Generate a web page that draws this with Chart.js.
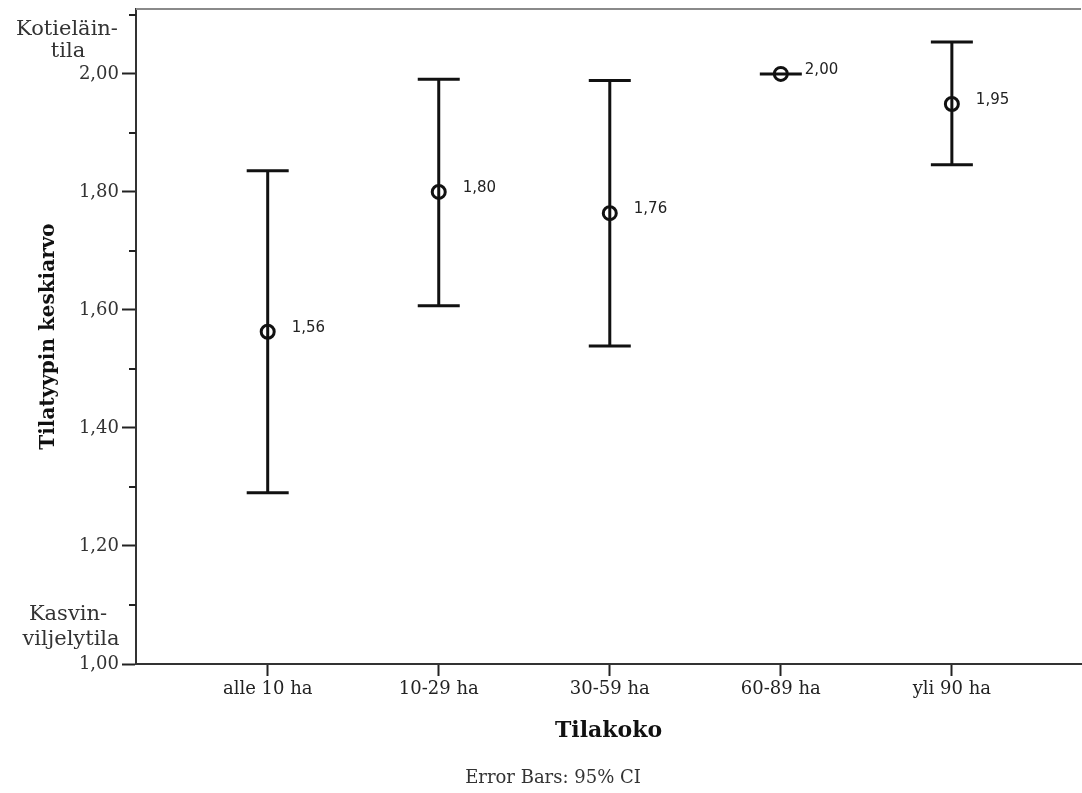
<!DOCTYPE html>
<html><head><meta charset="utf-8">
<script src="https://cdn.jsdelivr.net/npm/chart.js@4.4.1/dist/chart.umd.min.js"></script>
<style>html,body{margin:0;padding:0;background:#fff;} canvas{display:block;}</style>
</head><body>
<canvas id="c" width="1082" height="793"></canvas>
<script>
// ---- data ----
const categories = ['alle 10 ha', '10-29 ha', '30-59 ha', '60-89 ha', 'yli 90 ha'];
const means      = [1.563, 1.800, 1.764, 2.000, 1.949];
const ciLower    = [1.290, 1.607, 1.539, 2.000, 1.846];
const ciUpper    = [1.836, 1.991, 1.989, 2.000, 2.054];
const meanLabels = ['1,56', '1,80', '1,76', '2,00', '1,95'];
const yTickValues = [1.0, 1.1, 1.2, 1.3, 1.4, 1.5, 1.6, 1.7, 1.8, 1.9, 2.0, 2.1];
const yMajorTicks = [1.0, 1.2, 1.4, 1.6, 1.8, 2.0];
const topValueLabel = ['Kotieläin-', 'tila'];
const bottomValueLabel = ['Kasvin-', 'viljelytila'];
const footerText = 'Error Bars: 95% CI';

const SERIF = '"DejaVu Serif", serif';
const isMajor = v => yMajorTicks.some(m => Math.abs(m - v) < 1e-6);
const fmt = v => v.toFixed(2).replace('.', ',');

const decor = {
  id: 'decor',
  beforeDatasetsDraw(chart) {
    const {ctx, chartArea, scales: {x, y}} = chart;
    ctx.save();
    // top frame line
    ctx.strokeStyle = '#8a8a8a'; ctx.lineWidth = 2;
    ctx.beginPath(); ctx.moveTo(chartArea.left, chartArea.top); ctx.lineTo(chartArea.right, chartArea.top); ctx.stroke();
    // minor y ticks
    ctx.strokeStyle = '#222'; ctx.lineWidth = 2;
    yTickValues.filter(v => !isMajor(v)).forEach(v => {
      const py = Math.round(y.getPixelForValue(v));
      ctx.beginPath(); ctx.moveTo(chartArea.left - 7, py); ctx.lineTo(chartArea.left, py); ctx.stroke();
    });
    // error bars
    ctx.strokeStyle = '#111'; ctx.lineWidth = 3;
    categories.forEach((c, i) => {
      const px = x.getPixelForValue(i);
      const pl = y.getPixelForValue(ciLower[i]);
      const pu = y.getPixelForValue(ciUpper[i]);
      ctx.beginPath();
      ctx.moveTo(px, pl); ctx.lineTo(px, pu);
      ctx.moveTo(px - 21, pl); ctx.lineTo(px + 21, pl);
      ctx.moveTo(px - 21, pu); ctx.lineTo(px + 21, pu);
      ctx.stroke();
    });
    ctx.restore();
  },
  afterDatasetsDraw(chart) {
    const {ctx, chartArea, scales: {x, y}} = chart;
    ctx.save();
    // mean value labels
    ctx.fillStyle = '#222'; ctx.font = '15px "DejaVu Sans", sans-serif';
    ctx.textAlign = 'left'; ctx.textBaseline = 'middle';
    categories.forEach((c, i) => {
      ctx.fillText(meanLabels[i], x.getPixelForValue(i) + 24, y.getPixelForValue(means[i]) - 4);
    });
    // value labels for the scale ends
    ctx.fillStyle = '#333'; ctx.font = '21px ' + SERIF; ctx.textAlign = 'center'; ctx.textBaseline = 'alphabetic';
    const yTop = y.getPixelForValue(2.0), yBot = y.getPixelForValue(1.0);
    ctx.fillText(topValueLabel[0], 67, yTop - 39);
    ctx.fillText(topValueLabel[1], 68, yTop - 17);
    ctx.fillText(bottomValueLabel[0], 68, yBot - 44);
    ctx.fillText(bottomValueLabel[1], 71, yBot - 19);
    // footer
    ctx.font = '18px ' + SERIF; ctx.textBaseline = 'middle';
    ctx.fillText(footerText, chart.width / 2 + 12, 778);
    ctx.restore();
  }
};

new Chart(document.getElementById('c'), {
  type: 'scatter',
  data: {
    datasets: [{
      data: means.map((m, i) => ({x: i, y: m})),
      pointRadius: 6.5,
      pointHoverRadius: 6.5,
      pointBorderWidth: 3,
      pointBorderColor: '#111',
      pointBackgroundColor: 'rgba(0,0,0,0)',
      showLine: false,
      clip: false
    }]
  },
  options: {
    responsive: false,
    animation: false,
    devicePixelRatio: 1,
    layout: {autoPadding: false, padding: {top: 9, right: 1, left: 0, bottom: 0}},
    plugins: {legend: {display: false}, tooltip: {enabled: false}},
    scales: {
      x: {
        type: 'linear', min: -0.77, max: 4.755,
        afterBuildTicks: s => { s.ticks = categories.map((c, i) => ({value: i})); },
        afterFit: s => { s.height = 129; s.paddingLeft = 0; s.paddingRight = 0; },
        ticks: {
          callback: v => categories[Math.round(v)] ?? '',
          font: {family: SERIF, size: 18}, color: '#222', padding: 3, maxRotation: 0, autoSkip: false
        },
        grid: {drawOnChartArea: false, tickLength: 12, tickColor: '#222', tickWidth: 2},
        border: {display: true, color: '#333', width: 2},
        title: {display: true, text: 'Tilakoko', color: '#111',
          font: {family: SERIF, size: 22, weight: 'bold'}, padding: {top: 0, bottom: 49}}
      },
      y: {
        min: 1.0, max: 2.11,
        afterBuildTicks: s => { s.ticks = yTickValues.map(v => ({value: v})); },
        afterFit: s => { s.width = 136; s.paddingTop = 0; s.paddingBottom = 0; },
        ticks: {
          callback: v => isMajor(v) ? fmt(v) : '',
          font: {family: SERIF, size: 18}, color: '#333', padding: 3, autoSkip: false
        },
        grid: {drawOnChartArea: false, tickLength: 14, tickWidth: 2,
          tickColor: c => (c.tick && isMajor(c.tick.value)) ? '#222' : 'rgba(0,0,0,0)'},
        border: {display: true, color: '#333', width: 2},
        title: {display: true, text: 'Tilatyypin keskiarvo', color: '#111',
          font: {family: SERIF, size: 20, weight: 'bold'}, padding: {top: 37, bottom: 0}}
      }
    }
  },
  plugins: [decor]
});
</script>
</body></html>
